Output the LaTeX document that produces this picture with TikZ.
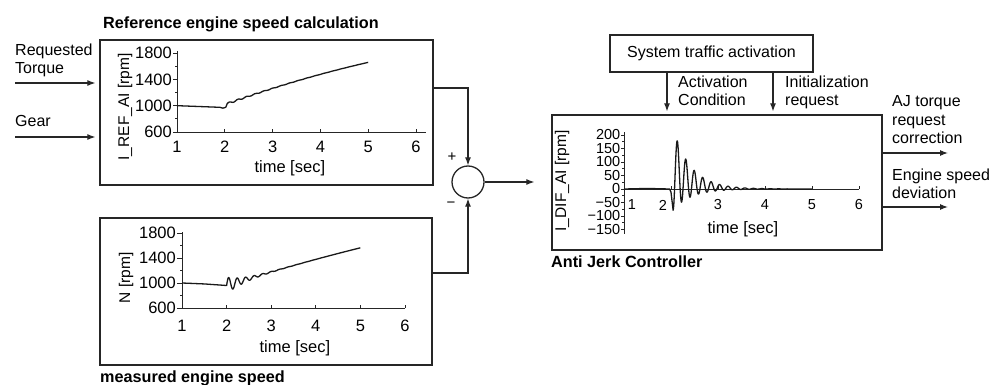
\documentclass[tikz,border=0pt]{standalone}
\usepackage{fontspec}
\setmainfont{Liberation Sans}
\usetikzlibrary{positioning,arrows.meta}

\begin{document}
\begin{tikzpicture}[
  x=1pt, y=-1pt,
  font=\fontsize{16}{18.5}\selectfont,
  blockbox/.style ={rectangle, draw=black!85, line width=1.3pt, inner sep=0pt},
  sumnode/.style  ={circle, draw=black!85, line width=1.3pt, minimum size=32pt, inner sep=0pt},
  titletext/.style={font=\fontsize{16.2}{18}\selectfont\bfseries, inner sep=0pt},
  lbl/.style      ={align=left, inner sep=0pt},
  ticklbl/.style  ={font=\fontsize{16.5}{18}\selectfont, inner sep=1pt},
  axislbl/.style  ={font=\fontsize{15.5}{17}\selectfont, inner sep=0pt, rotate=90},
  smalltick/.style={font=\fontsize{14.5}{15}\selectfont, inner sep=0pt},
  axis/.style     ={line width=0.9pt, draw=black!85},
  curve/.style    ={line width=1.3pt, draw=black!90, line join=round},
  arr/.style      ={-{Latex[length=8pt, width=6pt]}, line width=1.1pt, draw=black!85},
]
\useasboundingbox (0,0) rectangle (994,385);

% ---------------- blocks ----------------
\node[blockbox, minimum width=333pt, minimum height=145pt] (refbox) at (266.5,112.5) {};
\node[blockbox, minimum width=332pt, minimum height=147pt] (measbox) at (266,291.5) {};
\node[sumnode] (sum) at (468,182) {};
\node[blockbox, minimum width=330pt, minimum height=135pt] (ctrlbox) at (717,182.5) {};
\node[blockbox, minimum width=203pt, minimum height=37pt] (sysbox) at (711.5,53.5) {System traffic activation};

\node[titletext, anchor=base west] (reftitle) at (103,29) {Reference engine speed calculation};
\node[titletext, anchor=base west] (meastitle) at (100,382) {measured engine speed};
\node[titletext, anchor=base west] (ctrltitle) at (551,267) {Anti Jerk Controller};

% ---------------- inputs ----------------
\coordinate (torquein) at (15,83);
\coordinate (gearin) at (15,137);
\node[lbl, anchor=north west] (torquelbl) at (15,43.5) {Requested\\Torque};
\node[lbl, anchor=base west] (gearlbl) at (15,127) {Gear};
\draw[arr, shorten >=4pt] (torquein) -- (refbox.west |- torquein);
\draw[arr, shorten >=4pt] (gearin) -- (refbox.west |- gearin);

% ---------------- summation ----------------
\node[inner sep=0pt, font=\fontsize{15}{16}\selectfont] (plus) at (452,157) {+};
\node[inner sep=0pt, font=\fontsize{15}{16}\selectfont] (minus) at (451,205) {−};
\draw[arr] ([yshift=24.5pt]refbox.east) -| (sum.north);
\draw[arr] ([yshift=18.5pt]measbox.east) -| (sum.south);
\draw[arr, shorten >=17pt] (sum.east) -- (sum.east -| ctrlbox.west);

% ---------------- activation ----------------
\draw[arr, shorten >=3pt] ([xshift=-44.5pt]sysbox.south) -- ([xshift=-44.5pt]sysbox.south |- ctrlbox.north);
\draw[arr, shorten >=3pt] ([xshift=61.5pt]sysbox.south) -- ([xshift=61.5pt]sysbox.south |- ctrlbox.north);
\node[lbl, anchor=north west] (actlbl) at (678,75.5) {Activation\\Condition};
\node[lbl, anchor=north west] (initlbl) at (785,75.5) {Initialization\\request};

% ---------------- outputs ----------------
\coordinate (ajout) at (948,153);
\coordinate (devout) at (948,207);
\draw[arr] (ctrlbox.east |- ajout) -- (ajout);
\draw[arr] (ctrlbox.east |- devout) -- (devout);
\node[lbl, anchor=north west] (ajlbl) at (892,95.5) {AJ torque\\request\\correction};
\node[lbl, anchor=north west] (devlbl) at (892,168.5) {Engine speed\\deviation};

% ---------------- reference speed plot ----------------
\node[axislbl] (rylbl) at (125,107) {I\_REF\_AI [rpm]};
\begin{scope}[xshift=129.2pt, yshift=-171.5pt, x=47.8pt, y=0.06583pt]
  \draw[axis] (1,600) -- (1,1830);
  \draw[axis] (1,600) -- (6.2,600);
  \foreach \v in {600,1000,1400,1800} {
    \draw[axis] (1,\v) -- ++(-4pt,0pt);
    \node[ticklbl, anchor=east] (rv\v) at ([xshift=-4pt]1,\v) {\v};
  }
  \foreach \v in {800,1200,1600}
    \draw[axis] (1,\v) -- ++(-2.5pt,0pt);
  \foreach \t in {1,...,6} {
    \draw[axis] (\t,600) -- ++(0pt,3pt);
    \node[ticklbl] (rt\t) at ([yshift=-15pt]\t,600) {\t};
  }
  \node[ticklbl] (rxlbl) at ([yshift=-36pt]3.36,600) {time [sec]};
  \draw[curve] (1,1000) -- (1.9,975) -- (1.96,962) -- (2.02,975) -- (2.05,1030)
    -- plot[domain=2.05:5, samples=120]
       (\x, {1030+260*(\x-2.05)-16*(\x-2.05)^2 + 15*exp(-(\x-2.05)/0.8)*sin(360*(\x-2.05)/0.18)});
\end{scope}

% ---------------- measured speed plot ----------------
\node[axislbl] (mylbl) at (126,278) {N [rpm]};
\begin{scope}[xshift=137.4pt, yshift=-345.5pt, x=44.6pt, y=0.0625pt]
  \draw[axis] (1,600) -- (1,1820);
  \draw[axis] (1,600) -- (6,600);
  \foreach \v in {600,1000,1400,1800} {
    \draw[axis] (1,\v) -- ++(-5pt,0pt);
    \node[ticklbl, anchor=east] (mv\v) at ([xshift=-5pt]1,\v) {\v};
  }
  \foreach \v in {800,1200,1600}
    \draw[axis] (1,\v) -- ++(-2.5pt,0pt);
  \foreach \t in {1,...,6} {
    \draw[axis] (\t,600) -- ++(0pt,3pt);
    \node[ticklbl] (mt\t) at ([yshift=-18pt]\t,600) {\t};
  }
  \node[ticklbl] (mxlbl) at ([yshift=-40pt]3.53,600) {time [sec]};
  \draw[curve] (1,1000) -- (1.5,985) -- (2.0,960)
    -- plot[domain=2:5, samples=240]
       (\x, {960+225*(\x-2)-8*(\x-2)^2 + 135*exp(-(\x-2)/0.35)*sin(360*(\x-2)/0.19)});
\end{scope}

% ---------------- deviation plot ----------------
\node[axislbl] (dylbl) at (562,181) {I\_DIF\_AI [rpm]};
\begin{scope}[xshift=577pt, yshift=-189pt, x=47pt, y=0.27pt]
  \draw[axis] (1,-165) -- (1,210);
  \draw[axis] (1,0) -- (6,0);
  \foreach \v/\s in {200/200,150/150,100/100,50/50,0/0,-50/−50,-100/−100,-150/−150} {
    \draw[axis] (1,\v) -- ++(-3pt,0pt);
    \node[smalltick, anchor=east] (dv\v) at ([xshift=-3.5pt]1,\v) {\s};
  }
  \foreach \v in {-125,-75,-25,25,75,125,175}
    \draw[axis] (1,\v) -- ++(-2pt,0pt);
  \foreach \t in {2,...,6}
    \draw[axis] (\t,0) -- ++(0pt,3pt);
  \node[smalltick] (dt1) at ([yshift=-16pt]1.17,0) {1};
  \node[smalltick] (dt2) at ([yshift=-16pt]1.83,0) {2};
  \foreach \t in {3,...,6}
    \node[smalltick] (dt\t) at ([yshift=-16pt]\t,0) {\t};
  \node[ticklbl] (dxlbl) at ([yshift=-40pt]3.53,0) {time [sec]};
  \draw[curve] (1,0) -- (1.5,2) -- (1.97,0) -- (2.0,-12)
    -- plot[domain=2.045:5, samples=400]
       (\x, {exp(-(\x-2.135)/0.38)*(120*cos(360*(\x-2.135)/0.18)+58)});
\end{scope}

\end{tikzpicture}
\end{document}
